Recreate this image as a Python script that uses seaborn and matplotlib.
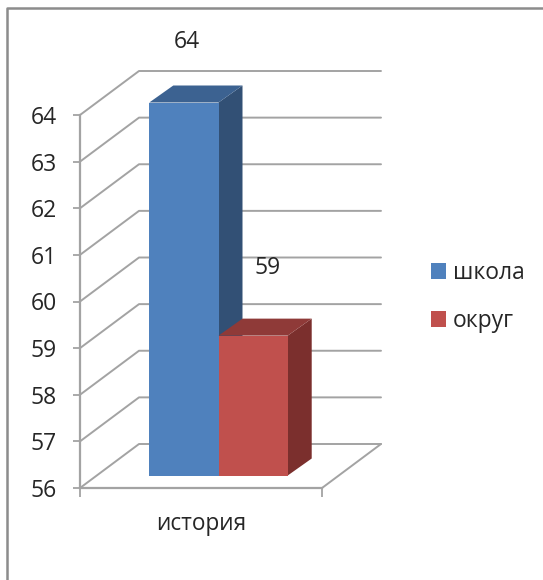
import matplotlib
matplotlib.use("Agg")
import matplotlib.pyplot as plt
import seaborn as sns
import pandas as pd
from matplotlib.lines import Line2D
from matplotlib.patches import Patch, Polygon

categories = ["история"]
series_names = ["школа", "округ"]
series_values = [64, 59]
y_ticks = [56, 57, 58, 59, 60, 61, 62, 63, 64]

COLORS = ["#4F81BD", "#C0504D"]
TOP = ["#3C6291", "#8F3A38"]
SIDE = ["#325075", "#7B2F2D"]
GRID = "#A3A3A3"
TEXT = "#262626"
FS = 16.5

sns.set_theme(style="white")
plt.rcParams["font.family"] = ["Open Sans", "DejaVu Sans"]

W, H = 543, 580
fig = plt.figure(figsize=(W / 100, H / 100), dpi=100, facecolor="white")


def rect(x0, x1, y_top, y_bot):
    return [x0 / W, 1 - y_bot / H, (x1 - x0) / W, (y_bot - y_top) / H]


# Frame of the picture
fig.add_artist(Line2D([7 / W, 7 / W, 1], [0, 1 - 8 / H, 1 - 8 / H], color="#8C8C8C", lw=1.8))

# Front plane: the axis and the walls
ax = fig.add_axes(rect(80, 322, 115, 488), facecolor="none")
ax.set_xlim(-0.5, 0.5)
ax.set_ylim(min(y_ticks), max(y_ticks))
wall_dx = 59 / 242
wall_dy = 44 / (373 / 8)
for v in y_ticks:
    ax.plot([-0.5, -0.5 + wall_dx, 0.5 + wall_dx], [v, v + wall_dy, v + wall_dy],
            color=GRID, lw=1.4, clip_on=False, zorder=1)
ax.plot([0.5, 0.5 + wall_dx], [y_ticks[0], y_ticks[0] + wall_dy], color=GRID, lw=1.4,
        clip_on=False, zorder=1)

sns.despine(ax=ax, top=True, right=True)
for s in ("left", "bottom"):
    ax.spines[s].set_color(GRID)
    ax.spines[s].set_linewidth(1.6)
ax.set_yticks(y_ticks)
ax.set_yticklabels([str(v) for v in y_ticks], fontsize=FS, color=TEXT)
ax.tick_params(axis="y", length=5, width=1.3, color=GRID, pad=11.5, left=True)
ax.set_xticks([0])
ax.set_xticklabels(categories, fontsize=FS - 0.2, color=TEXT)
ax.tick_params(axis="x", which="major", length=0, pad=17.5)
ax.set_xticks([-0.5, 0.5], minor=True)
ax.tick_params(axis="x", which="minor", length=6.5, width=1.3, color=GRID, bottom=True)

# Bar plane, set back from the front plane
ax_b = fig.add_axes(rect(97.5, 339.5, 102.5, 475.5), facecolor="none")
df = pd.DataFrame({
    "предмет": categories * len(series_names),
    "ряд": series_names,
    "балл": series_values,
})
sns.barplot(data=df, x="предмет", y="балл", hue="ряд", hue_order=series_names,
            palette=COLORS, saturation=1, width=0.572, gap=0, legend=False, ax=ax_b,
            linewidth=0)
ax_b.set_xlim(-0.5, 0.5)
ax_b.set_ylim(min(y_ticks), max(y_ticks))
ax_b.axis("off")

bar_dx = 24 / 242
bar_dy = 17 / (373 / 8)
label_offsets = [(2.5, 60), (14.5, 68)]
for i, (p, v) in enumerate(zip(ax_b.patches[:len(series_values)], series_values)):
    x0, x1 = p.get_x(), p.get_x() + p.get_width()
    base = min(y_ticks)
    ax_b.add_patch(Polygon([(x0, v), (x1, v), (x1 + bar_dx, v + bar_dy), (x0 + bar_dx, v + bar_dy)],
                           facecolor=TOP[i], edgecolor="none", clip_on=False))
    ax_b.add_patch(Polygon([(x1, base), (x1, v), (x1 + bar_dx, v + bar_dy), (x1 + bar_dx, base + bar_dy)],
                           facecolor=SIDE[i], edgecolor="none", clip_on=False, zorder=p.get_zorder() - 0.1))
    ox, oy = label_offsets[i]
    ax_b.annotate(str(v), xy=((x0 + x1) / 2, v), xytext=(ox * 0.72, oy * 0.72),
                  textcoords="offset points", ha="center", va="center",
                  fontsize=FS, color=TEXT, annotation_clip=False, zorder=6)

handles = [Patch(facecolor=c, edgecolor="none", label=n) for c, n in zip(COLORS, series_names)]
fig.legend(handles=handles, loc="center left", bbox_to_anchor=(431 / W, 1 - 297 / H),
           frameon=False, fontsize=FS, labelcolor=TEXT, handlelength=0.67, handleheight=0.67,
           handletextpad=0.28, labelspacing=1.05, borderpad=0, borderaxespad=0)

fig.savefig("out.png", dpi=100)
